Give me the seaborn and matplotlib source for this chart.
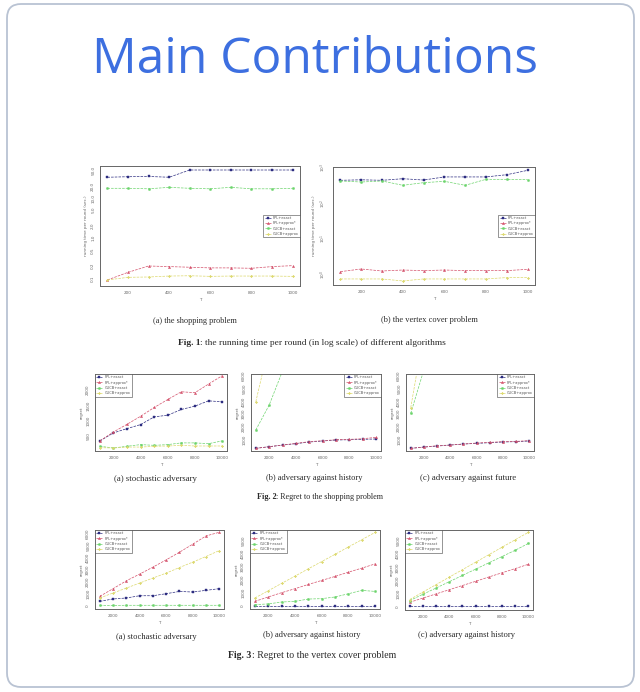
import matplotlib
matplotlib.use("Agg")
import matplotlib.pyplot as plt
import seaborn as sns
import numpy as np
from matplotlib.patches import FancyBboxPatch
from matplotlib.transforms import IdentityTransform

# ---------------- data ----------------
names = ["FPL+exact", "FPL+approx*", "CUCB+exact", "CUCB+approx"]
T1 = [100, 200, 300, 400, 500, 600, 700, 800, 900, 1000]
T2 = [1000, 2000, 3000, 4000, 5000, 6000, 7000, 8000, 9000, 10000]

# Fig 1a: running time, shopping problem (log scale)
f1a_fpl_exact = [33, 34, 34.5, 33, 50, 50, 50, 50, 50, 50]
f1a_fpl_approx = [0.091, 0.141, 0.203, 0.196, 0.189, 0.182, 0.182, 0.178, 0.196, 0.207]
f1a_cucb_exact = [17.5, 17.5, 17, 18.5, 17.5, 17, 18.5, 17, 17, 17.5]
f1a_cucb_approx = [0.091, 0.106, 0.108, 0.114, 0.116, 0.112, 0.114, 0.114, 0.114, 0.112]

# Fig 1b: running time, vertex cover problem (log scale)
f1b_fpl_exact = [442, 457, 442, 490, 450, 550, 550, 550, 636, 841]
f1b_fpl_approx = [1.19, 1.41, 1.24, 1.32, 1.27, 1.32, 1.27, 1.27, 1.27, 1.38]
f1b_cucb_exact = [423, 396, 423, 320, 379, 414, 320, 471, 471, 461]
f1b_cucb_approx = [0.74, 0.74, 0.74, 0.65, 0.74, 0.74, 0.74, 0.74, 0.81, 0.81]

# Fig 2a: regret, shopping, stochastic adversary
f2a_fpl_exact = [350, 610, 750, 880, 1130, 1185, 1370, 1480, 1650, 1620]
f2a_fpl_approx = [350, 640, 890, 1150, 1435, 1695, 1945, 1915, 2195, 2465]
f2a_cucb_exact = [175, 120, 175, 230, 205, 230, 285, 285, 260, 350]
f2a_cucb_approx = [130, 120, 150, 150, 175, 185, 205, 185, 185, 185]

# Fig 2b: regret, shopping, adversary against history
f2b_fpl_exact = [290, 420, 550, 660, 790, 870, 950, 970, 1000, 1030]
f2b_fpl_approx = [290, 420, 550, 680, 820, 890, 970, 1000, 1050, 1160]
f2b_cucb_exact = [1740, 3710, 6400, 9000, 12000, 15000, 18000, 21000, 24000, 27000]
f2b_cucb_approx = [3970, 8500, 13000, 17500, 22000, 26500, 31000, 35500, 40000, 44500]

# Fig 2c: regret, shopping, adversary against future
f2c_fpl_exact = [290, 390, 470, 550, 630, 680, 740, 790, 820, 870]
f2c_fpl_approx = [290, 390, 500, 550, 630, 710, 760, 820, 840, 900]
f2c_cucb_exact = [3050, 6500, 10000, 13500, 17000, 20500, 24000, 27500, 31000, 34500]
f2c_cucb_approx = [3500, 9500, 15500, 21500, 27500, 33500, 39500, 45500, 51500, 57500]

# Fig 3a: regret, vertex cover, stochastic adversary
f3a_fpl_exact = [360, 560, 640, 830, 830, 1000, 1190, 1140, 1280, 1420]
f3a_fpl_approx = [780, 1420, 2080, 2640, 3220, 3830, 4470, 5140, 5830, 6140]
f3a_cucb_exact = [20, 20, 30, 30, 30, 30, 30, 30, 30, 30]
f3a_cucb_approx = [640, 1060, 1470, 1890, 2310, 2720, 3190, 3640, 4110, 4610]

# Fig 3b: regret, vertex cover, adversary against history
f3b_fpl_exact = [10, 10, 10, 10, 10, 10, 10, 10, 10, 10]
f3b_fpl_approx = [330, 670, 1000, 1310, 1640, 1950, 2260, 2590, 2900, 3230]
f3b_cucb_exact = [80, 130, 280, 330, 510, 540, 670, 920, 1180, 1100]
f3b_cucb_approx = [590, 1150, 1720, 2280, 2850, 3410, 3970, 4540, 5100, 5670]

# Fig 3c: regret, vertex cover, adversary against history
f3c_fpl_exact = [10, 10, 10, 10, 10, 10, 10, 10, 10, 10]
f3c_fpl_approx = [330, 650, 970, 1290, 1610, 1930, 2260, 2580, 2900, 3230]
f3c_cucb_exact = [460, 940, 1420, 1900, 2380, 2860, 3340, 3820, 4300, 4820]
f3c_cucb_approx = [540, 1110, 1680, 2250, 2820, 3390, 3960, 4530, 5100, 5670]

f1_xticks = [200, 400, 600, 800, 1000]
f2_xticks = [2000, 4000, 6000, 8000, 10000]
f1a_yticks = [0.1, 0.2, 0.5, 1, 2, 5, 10, 20, 50]
f1a_yticklabels = ["0.1", "0.2", "0.5", "1.0", "2.0", "5.0", "10.0", "20.0", "50.0"]
f1b_yticks = [1, 10, 100, 1000]
f1b_yticklabels = [r"$10^0$", r"$10^1$", r"$10^2$", r"$10^3$"]

# ---------------- style ----------------
sns.set_theme(style="white")
plt.rcParams["font.family"] = ["DejaVu Sans"]

W, H = 640, 692
fig = plt.figure(figsize=(W / 100, H / 100), dpi=100)
fig.patch.set_facecolor("white")

colors = ["#2c2c80", "#d4506a", "#6cd46c", "#dcd86c"]
markers = ["s", "^", "o", "P"]
SERIF = ["Liberation Serif", "DejaVu Serif"]

# slide border (rounded rectangle, pixel coords)
border = FancyBboxPatch((7, H - 687), 627, 683,
                        boxstyle="round,pad=0,rounding_size=14",
                        transform=IdentityTransform(), facecolor="white",
                        edgecolor="#b9c3d3", linewidth=1.3, zorder=-10)
fig.patches.append(border)

renderer = fig.canvas.get_renderer()


def fit_text(x, y, s, width, **kw):
    t = fig.text(x / W, 1 - y / H, s, **kw)
    bb = t.get_window_extent(renderer=renderer)
    t.set_fontsize(t.get_fontsize() * width / bb.width)
    return t


def caption(xc, y, bold, rest, width, size=6):
    tb = fig.text(0, 1 - y / H, bold, family=SERIF, fontsize=size,
                  fontweight="bold", color="#2a2a2a", va="center", ha="left")
    tr = fig.text(0, 1 - y / H, rest, family=SERIF, fontsize=size,
                  color="#2a2a2a", va="center", ha="left")
    wb = tb.get_window_extent(renderer=renderer).width
    wr = tr.get_window_extent(renderer=renderer).width
    sc = width / (wb + wr)
    tb.set_fontsize(size * sc)
    tr.set_fontsize(size * sc)
    wb = tb.get_window_extent(renderer=renderer).width
    wr = tr.get_window_extent(renderer=renderer).width
    x0 = xc - (wb + wr) / 2
    tb.set_x(x0 / W)
    tr.set_x((x0 + wb) / W)


def make_ax(x0, y0, x1, y1):
    ax = fig.add_axes([x0 / W, 1 - y1 / H, (x1 - x0) / W, (y1 - y0) / H])
    ax.set_facecolor("white")
    for sp in ax.spines.values():
        sp.set_color("#666666")
        sp.set_linewidth(0.7)
    ax.tick_params(axis="both", which="both", direction="out", length=2,
                   width=0.5, colors="#666666", labelsize=3, pad=1.5)
    ax.tick_params(axis="both", which="minor", length=0)
    return ax


def draw(ax, T, series, xticks, xlim, ylim, ylabel, legend_loc,
         legend_anchor, log=False, yticks=None, yticklabels=None):
    if log:
        ax.set_yscale("log")
    for name, vals, c, m in zip(names, series, colors, markers):
        sns.lineplot(x=T, y=vals, ax=ax, color=c, marker=m, markersize=1.6,
                     markeredgewidth=0.3, markeredgecolor=c, linewidth=0.5,
                     linestyle="--", label=name)
    ax.set_xlim(*xlim)
    ax.set_ylim(*ylim)
    ax.set_xticks(xticks)
    ax.set_xticklabels([str(v) for v in xticks])
    if yticks is not None:
        ax.set_yticks(yticks)
        ax.set_yticklabels(yticklabels if yticklabels is not None
                           else [str(v) for v in yticks])
    ax.yaxis.set_minor_locator(matplotlib.ticker.NullLocator())
    for lab in ax.get_yticklabels():
        lab.set_rotation(90)
        lab.set_va("center")
    ax.set_xlabel("T", fontsize=3, color="#666", labelpad=2)
    ax.set_ylabel(ylabel, fontsize=3, color="#666", labelpad=2)
    leg = ax.legend(loc=legend_loc, bbox_to_anchor=legend_anchor,
                    fontsize=2.6, frameon=True, fancybox=False,
                    handlelength=1.6, borderpad=0.4, labelspacing=0.35,
                    handletextpad=0.6, borderaxespad=0)
    leg.get_frame().set_edgecolor("#444444")
    leg.get_frame().set_linewidth(0.5)
    for txt in leg.get_texts():
        txt.set_color("#555")


# ---------------- title ----------------
fit_text(92, 60, "Main Contributions", 445, family=["Open Sans", "DejaVu Sans"],
         fontsize=40, color="#3d6fe0", va="center", ha="left")

# ---------------- Fig 1 ----------------
ax = make_ax(100, 166, 300, 286)
draw(ax, T1, [f1a_fpl_exact, f1a_fpl_approx, f1a_cucb_exact, f1a_cucb_approx],
     f1_xticks, (64, 1036), (0.0644, 62.9), "running time per round (sec.)",
     "center right", (1.0, 0.5), log=True, yticks=f1a_yticks,
     yticklabels=f1a_yticklabels)

ax = make_ax(333, 167, 535, 285)
draw(ax, T1, [f1b_fpl_exact, f1b_fpl_approx, f1b_cucb_exact, f1b_cucb_approx],
     f1_xticks, (64, 1036), (0.5, 1047), "running time per round (sec.)",
     "center right", (1.0, 0.5), log=True, yticks=f1b_yticks,
     yticklabels=f1b_yticklabels)

caption(194.5, 321, "", "(a) the shopping problem", 85)
caption(429, 320, "", "(b) the vertex cover problem", 98)
caption(312, 343, "Fig. 1", ": the running time per round (in log scale) of different algorithms", 270)

# ---------------- Fig 2 ----------------
xl2 = (640, 10360)
ax = make_ax(95, 374, 227, 451)
draw(ax, T2, [f2a_fpl_exact, f2a_fpl_approx, f2a_cucb_exact, f2a_cucb_approx],
     f2_xticks, xl2, (22, 2522), "regret", "upper left", (0, 1),
     yticks=[500, 1000, 1500, 2000])

ax = make_ax(251, 374, 381, 451)
draw(ax, T2, [f2b_fpl_exact, f2b_fpl_approx, f2b_cucb_exact, f2b_cucb_approx],
     f2_xticks, xl2, (80, 6160), "regret", "upper right", (1, 1),
     yticks=[1000, 2000, 3000, 4000, 5000, 6000])

ax = make_ax(406, 374, 534, 451)
draw(ax, T2, [f2c_fpl_exact, f2c_fpl_approx, f2c_cucb_exact, f2c_cucb_approx],
     f2_xticks, xl2, (80, 6160), "regret", "upper right", (1, 1),
     yticks=[1000, 2000, 3000, 4000, 5000, 6000])

caption(155, 479, "", "(a) stochastic adversary", 84)
caption(314, 478, "", "(b) adversary against history", 97)
caption(468, 478, "", "(c) adversary against future", 97)
caption(320, 497, "Fig. 2", ": Regret to the shopping problem", 128)

# ---------------- Fig 3 ----------------
ax = make_ax(95, 530, 224, 609)
draw(ax, T2, [f3a_fpl_exact, f3a_fpl_approx, f3a_cucb_exact, f3a_cucb_approx],
     f2_xticks, xl2, (-280, 6330), "regret", "upper left", (0, 1),
     yticks=[0, 1000, 2000, 3000, 4000, 5000, 6000])

ax = make_ax(250, 530, 380, 609)
draw(ax, T2, [f3b_fpl_exact, f3b_fpl_approx, f3b_cucb_exact, f3b_cucb_approx],
     f2_xticks, xl2, (-260, 5850), "regret", "upper left", (0, 1),
     yticks=[0, 1000, 2000, 3000, 4000, 5000])

ax = make_ax(405, 530, 533, 610)
draw(ax, T2, [f3c_fpl_exact, f3c_fpl_approx, f3c_cucb_exact, f3c_cucb_approx],
     f2_xticks, xl2, (-260, 5850), "regret", "upper left", (0, 1),
     yticks=[0, 1000, 2000, 3000, 4000, 5000])

caption(156, 637, "", "(a) stochastic adversary", 82)
caption(312, 635, "", "(b) adversary against history", 99)
caption(466, 635, "", "(c) adversary against history", 98)
caption(312, 655, "Fig. 3", ": Regret to the vertex cover problem", 170)

fig.savefig("out.png", dpi=100, facecolor="white")
